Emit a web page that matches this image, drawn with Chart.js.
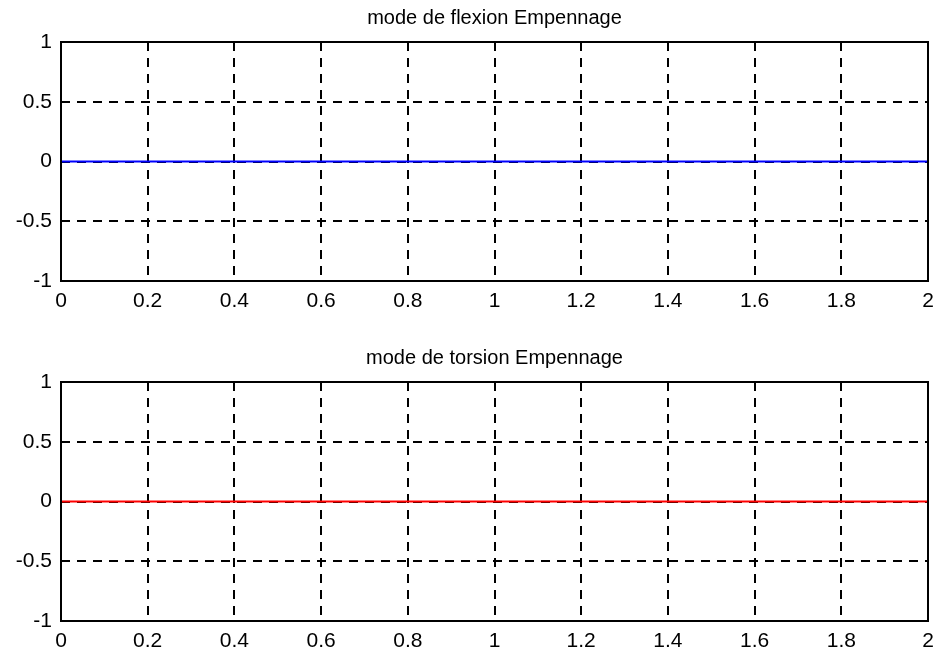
<!DOCTYPE html>
<html><head><meta charset="utf-8">
<script src="https://cdn.jsdelivr.net/npm/chart.js@4"></script>
<style>html,body{margin:0;padding:0;background:#fff;overflow:hidden}
.c{position:absolute;left:0}</style></head><body>
<canvas id="c1" class="c" width="942" height="317" style="top:0"></canvas>
<canvas id="c2" class="c" width="942" height="317" style="top:340px"></canvas>
<script>
const xValues = [0, 0.2, 0.4, 0.6, 0.8, 1, 1.2, 1.4, 1.6, 1.8, 2];
const flexionValues = [0, 0, 0, 0, 0, 0, 0, 0, 0, 0, 0];
const torsionValues = [0, 0, 0, 0, 0, 0, 0, 0, 0, 0, 0];
const xTickLabels = ['0', '0.2', '0.4', '0.6', '0.8', '1', '1.2', '1.4', '1.6', '1.8', '2'];
const yTickLabels = ['-1', '-0.5', '0', '0.5', '1'];
const titles = ['mode de flexion Empennage', 'mode de torsion Empennage'];

const FONT = "'Liberation Sans', Arial, sans-serif";

const boxPlugin = {
  id: 'box',
  afterDatasetsDraw(chart) {
    const { ctx, chartArea: a } = chart;
    ctx.save();
    ctx.strokeStyle = '#000';
    ctx.lineWidth = 2;
    ctx.strokeRect(a.left, a.top, a.right - a.left, a.bottom - a.top);
    ctx.restore();
  }
};

function makeChart(id, title, values, color) {
  const pts = xValues.map((x, i) => ({ x: x, y: values[i] }));
  return new Chart(document.getElementById(id), {
    type: 'line',
    data: { datasets: [{ data: pts, borderColor: color, borderWidth: 2, pointRadius: 0, fill: false, tension: 0 }] },
    options: {
      responsive: false,
      animation: false,
      devicePixelRatio: 1,
      layout: { padding: { left: 0, right: 14, top: 0, bottom: 0 } },
      plugins: {
        legend: { display: false },
        tooltip: { enabled: false },
        title: {
          display: true, text: title, fullSize: false, color: '#000',
          font: { family: FONT, size: 20, weight: 'normal', lineHeight: 1.2 },
          padding: { top: 6, bottom: 12 }
        }
      },
      scales: {
        x: {
          type: 'linear', min: 0, max: 2,
          afterFit: s => { s.height = 36; },
          grid: { color: '#000', lineWidth: 2, drawTicks: false },
          border: { display: false, dash: [9, 7] },
          ticks: {
            stepSize: 0.2, autoSkip: false, maxRotation: 0, padding: 8, color: '#000',
            font: { family: FONT, size: 21 },
            callback: (v, i) => xTickLabels[i]
          }
        },
        y: {
          type: 'linear', min: -1, max: 1,
          afterFit: s => { s.width = 61; },
          grid: { color: '#000', lineWidth: 2, drawTicks: false },
          border: { display: false, dash: [9, 7] },
          ticks: {
            stepSize: 0.5, padding: 9, color: '#000',
            font: { family: FONT, size: 21 },
            callback: (v, i) => yTickLabels[i]
          }
        }
      }
    },
    plugins: [boxPlugin]
  });
}

makeChart('c1', titles[0], flexionValues, '#0000ff');
makeChart('c2', titles[1], torsionValues, '#ff0000');
</script>
</body></html>
